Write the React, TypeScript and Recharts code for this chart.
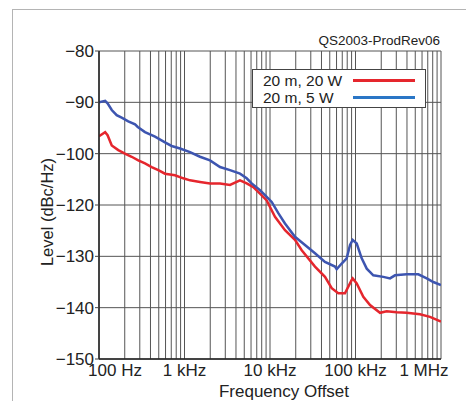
import { CartesianGrid, Label, Legend, Line, LineChart, XAxis, YAxis } from "recharts";

// frequency offset (Hz) and level
const BLUE_FREQ = [
    100, 118, 126, 141, 161, 184, 220, 264, 284, 345, 452, 591, 708, 886, 1160, 1518, 1988, 2602,
    3405, 4458, 5336, 6106, 7638, 8743, 10470, 12510, 14970, 19590, 25650, 33580, 43960, 57540,
    60240, 68980, 78890, 86300, 92750, 103300, 118200, 135300, 161500, 211400, 253300, 289800,
    397000, 543000, 681000, 813000, 1000000,
];
const BLUE_LEVEL = [
    -100.0, -99.7, -100.2, -101.5, -102.5, -103.0, -103.7, -104.3, -104.8, -105.8, -106.7, -107.8,
    -108.5, -109.0, -109.7, -110.6, -111.3, -112.6, -113.2, -113.9, -114.8, -115.8, -117.1, -118.1,
    -119.4, -121.6, -123.6, -126.2, -127.8, -129.4, -131.1, -132.0, -132.5, -131.4, -130.4, -127.8,
    -126.8, -127.5, -130.4, -132.4, -133.7, -134.0, -134.3, -133.7, -133.5, -133.5, -134.3, -135.0,
    -135.6,
];

const RED_FREQ = [
    100, 118, 126, 141, 168, 201, 241, 288, 345, 413, 494, 591, 774, 968, 1160, 1518, 1988, 2602,
    3405, 4458, 5336, 6380, 7638, 9150, 11440, 14970, 19590, 23490, 33580, 43960, 52700, 62900,
    75300, 90300, 92750, 103300, 123400, 147900, 193600, 231700, 303300, 397000, 567800, 743000,
    1000000,
];
const RED_LEVEL = [
    -106.6, -105.8, -106.4, -108.4, -109.3, -110.0, -110.6, -111.3, -111.9, -112.6, -113.2, -113.9,
    -114.2, -114.8, -115.2, -115.5, -115.8, -115.8, -116.1, -115.2, -115.8, -116.5, -117.8, -119.1,
    -122.3, -124.9, -126.8, -128.8, -132.0, -134.0, -136.2, -137.2, -137.2, -134.6, -134.3, -135.3,
    -137.9, -139.5, -141.0, -140.7, -140.9, -141.0, -141.3, -141.8, -142.7,
];

const X_GRID = [
    100, 200, 300, 400, 500, 600, 700, 800, 900,
    1000, 2000, 3000, 4000, 5000, 6000, 7000, 8000, 9000,
    10000, 20000, 30000, 40000, 50000, 60000, 70000, 80000, 90000,
    100000, 200000, 300000, 400000, 500000, 600000, 700000, 800000, 900000,
    1000000,
];
const X_LABEL_VALUES = [100, 1000, 10000, 100000, 1000000];
const X_LABELS = ["100 Hz", "1 kHz", "10 kHz", "100 kHz", "1 MHz"];

// the printed axis skips -110, labels kept as printed
const Y_TICKS = [-90, -100, -110, -120, -130, -140, -150];
const Y_LABELS = ["−80", "−90", "−100", "−120", "−130", "−140", "−150"];

const SERIES_NAMES = ["20 m, 20 W", "20 m, 5 W"];

const redData = RED_FREQ.map((f, i) => ({ f, v: RED_LEVEL[i] }));
const blueData = BLUE_FREQ.map((f, i) => ({ f, v: BLUE_LEVEL[i] }));

const FONT = "'Liberation Sans', Arial, sans-serif";
const TEXT = "#222";

const XTick = (props: any) => {
    const { x, y, payload } = props;
    const idx = X_LABEL_VALUES.indexOf(payload.value);
    if (idx < 0) return null;
    let dx = 0;
    if (idx === 0) dx = 16;
    if (idx === X_LABELS.length - 1) dx = -17;
    return (
        <text x={x + dx} y={y} dy="0.71em" textAnchor="middle" fill={TEXT} fontSize={17} fontFamily={FONT}>
            {X_LABELS[idx]}
        </text>
    );
};

const LegendBox = () => (
    <div
        style={{
            position: "relative",
            width: 174,
            height: 39,
            border: "1px solid #444",
            background: "#fff",
            boxSizing: "border-box",
            fontFamily: FONT,
            fontSize: 15.5,
            color: TEXT,
        }}
    >
        {SERIES_NAMES.map((name, i) => (
            <div key={name}>
                <div style={{ position: "absolute", left: 10, top: 2 + i * 17, lineHeight: "17px" }}>{name}</div>
                <div
                    style={{
                        position: "absolute",
                        left: 100,
                        top: 9 + i * 17,
                        width: 62,
                        height: 3,
                        background: i === 0 ? "#e5262d" : "#2a76c6",
                    }}
                />
            </div>
        ))}
    </div>
);

const App = () => {
    return (
        <div style={{ position: "relative", margin: -8, width: 474, height: 409, overflow: "hidden", background: "#fff" }}>
            <div
                style={{
                    position: "absolute",
                    left: 12,
                    top: 9,
                    width: 457,
                    height: 420,
                    border: "1.5px solid #b4b4b4",
                    boxSizing: "border-box",
                }}
            />
            <div
                style={{
                    position: "absolute",
                    right: 34,
                    top: 33,
                    fontFamily: FONT,
                    fontSize: 13.5,
                    color: TEXT,
                }}
            >
                QS2003-ProdRev06
            </div>
            <div style={{ position: "absolute", left: 0, top: 0 }}>
                <LineChart width={474} height={409} margin={{ top: 51, right: 33, left: 0, bottom: 0 }}>
                    <CartesianGrid stroke="#555" strokeWidth={1} verticalValues={X_GRID} horizontalValues={Y_TICKS} />
                    <XAxis
                        type="number"
                        dataKey="f"
                        scale="log"
                        domain={[100, 1000000]}
                        allowDataOverflow
                        ticks={X_GRID}
                        interval={0}
                        tick={<XTick />}
                        tickLine={false}
                        tickSize={0}
                        tickMargin={5}
                        height={50}
                        axisLine={{ stroke: "#222", strokeWidth: 1.5 }}
                    >
                        <Label
                            value="Frequency Offset"
                            position="insideBottom"
                            offset={12}
                            dx={14}
                            fill={TEXT}
                            fontSize={17}
                            fontFamily={FONT}
                        />
                    </XAxis>
                    <YAxis
                        type="number"
                        domain={[-150, -90]}
                        ticks={Y_TICKS}
                        interval={0}
                        width={99}
                        tickSize={4}
                        tickMargin={1}
                        tickLine={{ stroke: "#444" }}
                        axisLine={{ stroke: "#222", strokeWidth: 1.5 }}
                        tickFormatter={(v: number) => Y_LABELS[Y_TICKS.indexOf(v)]}
                        tick={{ fill: TEXT, fontSize: 17, fontFamily: FONT }}
                    >
                        <Label
                            value="Level (dBc/Hz)"
                            angle={-90}
                            position="center"
                            dx={-2}
                            dy={7}
                            fill={TEXT}
                            fontSize={16.5}
                            fontFamily={FONT}
                        />
                    </YAxis>
                    <Legend
                        layout="horizontal"
                        verticalAlign="middle"
                        align="center"
                        content={<LegendBox />}
                        wrapperStyle={{ position: "absolute", left: 252, top: 69, width: 174, height: 39 }}
                    />
                    <Line
                        data={redData}
                        dataKey="v"
                        name={SERIES_NAMES[0]}
                        type="linear"
                        stroke="#e5262d"
                        strokeWidth={2.5}
                        dot={false}
                        isAnimationActive={false}
                    />
                    <Line
                        data={blueData}
                        dataKey="v"
                        name={SERIES_NAMES[1]}
                        type="linear"
                        stroke="#3d55b0"
                        strokeWidth={2.5}
                        dot={false}
                        isAnimationActive={false}
                    />
                </LineChart>
            </div>
        </div>
    );
};

export default App;
